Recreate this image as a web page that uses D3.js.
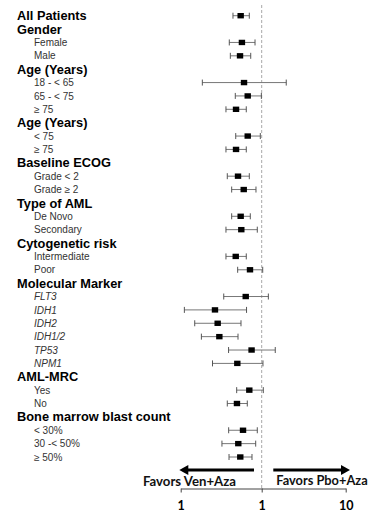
<!DOCTYPE html>
<html>
<head>
<meta charset="utf-8">
<script src="https://cdn.jsdelivr.net/npm/d3@7"></script>
<style>
  html, body { margin: 0; padding: 0; background: #fff; }
  svg { display: block; }
</style>
</head>
<body>
<svg id="chart" width="378" height="512"></svg>
<script>
// Subgroup rows, top to bottom
const rowLabels = [
  "All Patients", "Gender", "Female", "Male",
  "Age (Years)", "18 - < 65", "65 - < 75", "≥ 75",
  "Age (Years)", "< 75", "≥ 75",
  "Baseline ECOG", "Grade < 2", "Grade ≥ 2",
  "Type of AML", "De Novo", "Secondary",
  "Cytogenetic risk", "Intermediate", "Poor",
  "Molecular Marker", "FLT3", "IDH1", "IDH2", "IDH1/2", "TP53", "NPM1",
  "AML-MRC", "Yes", "No",
  "Bone marrow blast count", "< 30%", "30 -< 50%", "≥ 50%"
];
// "header" = group title, "sub" = subgroup, "gene" = molecular marker subgroup
const rowKind = [
  "header", "header", "sub", "sub",
  "header", "sub", "sub", "sub",
  "header", "sub", "sub",
  "header", "sub", "sub",
  "header", "sub", "sub",
  "header", "sub", "sub",
  "header", "gene", "gene", "gene", "gene", "gene", "gene",
  "header", "sub", "sub",
  "header", "sub", "sub", "sub"
];
// Hazard ratio with 95% CI (null = no estimate on that row)
const hazardRatio = [
  0.55, null, 0.57, 0.54,
  null, 0.605, 0.672, 0.482,
  null, 0.672, 0.482,
  null, 0.51, 0.60,
  null, 0.55, 0.56,
  null, 0.478, 0.717,
  null, 0.635, 0.265, 0.286, 0.30, 0.75, 0.50,
  null, 0.703, 0.495,
  null, 0.588, 0.514, 0.544
];
const ciLow = [
  0.442, null, 0.398, 0.41,
  null, 0.185, 0.472, 0.362,
  null, 0.478, 0.362,
  null, 0.376, 0.426,
  null, 0.426, 0.362,
  null, 0.362, 0.505,
  null, 0.34, 0.111, 0.149, 0.18, 0.39, 0.247,
  null, 0.491, 0.376,
  null, 0.391, 0.323, 0.395
];
const ciHigh = [
  0.703, null, 0.827, 0.732,
  null, 1.96, 0.99, 0.645,
  null, 0.961, 0.645,
  null, 0.703, 0.85,
  null, 0.723, 0.882,
  null, 0.645, 1.028,
  null, 1.2, 0.65, 0.555, 0.51, 1.45, 1.035,
  null, 1.045, 0.664,
  null, 0.882, 0.843, 0.759
];
const tickValues = [0.1, 1, 10];
const tickLabels = ["1", "1", "10"];
const favorLeft = "Favors Ven+Aza";
const favorRight = "Favors Pbo+Aza";

const svg = d3.select("#chart");

const rows = rowLabels.map((label, i) => ({
  i, label, kind: rowKind[i], hr: hazardRatio[i], lo: ciLow[i], hi: ciHigh[i]
}));

const y = d3.scalePoint()
  .domain(d3.range(rowLabels.length))
  .range([15.7, 457]);

const x = d3.scaleLog()
  .domain([0.1, 1, 10])
  .range([180.7, 261.7, 345.7]);

const axisY = 488.5;

// Row labels
svg.append("g")
  .selectAll("text")
  .data(rows)
  .join("text")
  .attr("x", d => d.kind === "header" ? 17 : 34)
  .attr("y", d => y(d.i) - (d.i === 0 ? 0.6 : 0))
  .attr("dy", "0.36em")
  .attr("font-family", "Liberation Sans, Arial, sans-serif")
  .attr("font-size", d => d.kind === "header" ? 12.8 : 10)
  .attr("font-weight", d => d.kind === "header" ? "bold" : "normal")
  .attr("font-style", d => d.kind === "gene" ? "italic" : "normal")
  .attr("fill", d => d.kind === "header" ? "#000" : "#333")
  .text(d => d.label);

// Line of no effect
svg.append("line")
  .attr("x1", x(1)).attr("x2", x(1))
  .attr("y1", 5).attr("y2", axisY)
  .attr("stroke", "#a8a8a8")
  .attr("stroke-width", 1)
  .attr("stroke-dasharray", "3,2");

// Confidence intervals and point estimates
const est = rows.filter(d => d.hr != null);
const g = svg.append("g");
g.selectAll("line.ci")
  .data(est)
  .join("line")
  .attr("class", "ci")
  .attr("x1", d => x(d.lo)).attr("x2", d => x(d.hi))
  .attr("y1", d => y(d.i)).attr("y2", d => y(d.i))
  .attr("stroke", "#777").attr("stroke-width", 1);
["lo", "hi"].forEach(k => {
  g.selectAll("line.cap-" + k)
    .data(est)
    .join("line")
    .attr("class", "cap-" + k)
    .attr("x1", d => x(d[k])).attr("x2", d => x(d[k]))
    .attr("y1", d => y(d.i) - 3).attr("y2", d => y(d.i) + 3)
    .attr("stroke", "#555").attr("stroke-width", 1);
});
g.selectAll("rect")
  .data(est)
  .join("rect")
  .attr("x", d => x(d.hr) - 3.2)
  .attr("y", d => y(d.i) - 2.7)
  .attr("width", 6.4)
  .attr("height", 5.4)
  .attr("fill", "#000");

// Direction arrows
const arrowY = 470;
function arrow(x1, x2) {
  const dir = Math.sign(x2 - x1);
  const headLen = 9, headHalf = 5;
  svg.append("line")
    .attr("x1", x1).attr("x2", x2 - dir * headLen + dir)
    .attr("y1", arrowY).attr("y2", arrowY)
    .attr("stroke", "#000").attr("stroke-width", 3.2);
  svg.append("path")
    .attr("d", `M${x2},${arrowY} L${x2 - dir * headLen},${arrowY - headHalf} L${x2 - dir * headLen},${arrowY + headHalf} Z`)
    .attr("fill", "#000");
}
arrow(254, 179.3);
arrow(273.3, 350);

svg.append("text")
  .attr("x", 189.5).attr("y", 481).attr("dy", "0.35em")
  .attr("text-anchor", "middle")
  .attr("font-family", "Lato, Carlito, sans-serif")
  .attr("font-weight", "bold").attr("font-size", 13.2)
  .attr("fill", "#111")
  .text(favorLeft);
svg.append("text")
  .attr("x", 322).attr("y", 481).attr("dy", "0.35em")
  .attr("text-anchor", "middle")
  .attr("font-family", "Lato, Carlito, sans-serif")
  .attr("font-weight", "bold").attr("font-size", 12.8)
  .attr("fill", "#111")
  .text(favorRight);

// Hazard ratio axis
const axis = d3.axisBottom(x)
  .tickValues(tickValues)
  .tickFormat((d, i) => tickLabels[i])
  .tickSize(4)
  .tickPadding(9)
  .tickSizeOuter(0);
const ax = svg.append("g")
  .attr("transform", `translate(0,${axisY})`)
  .call(axis);
ax.select(".domain").attr("stroke", "#444");
ax.selectAll(".tick line").attr("stroke", "#444");
ax.selectAll(".tick text")
  .attr("font-family", "Lato, Carlito, sans-serif")
  .attr("font-weight", "bold")
  .attr("font-size", 12.5)
  .attr("fill", "#000");
</script>
</body>
</html>
